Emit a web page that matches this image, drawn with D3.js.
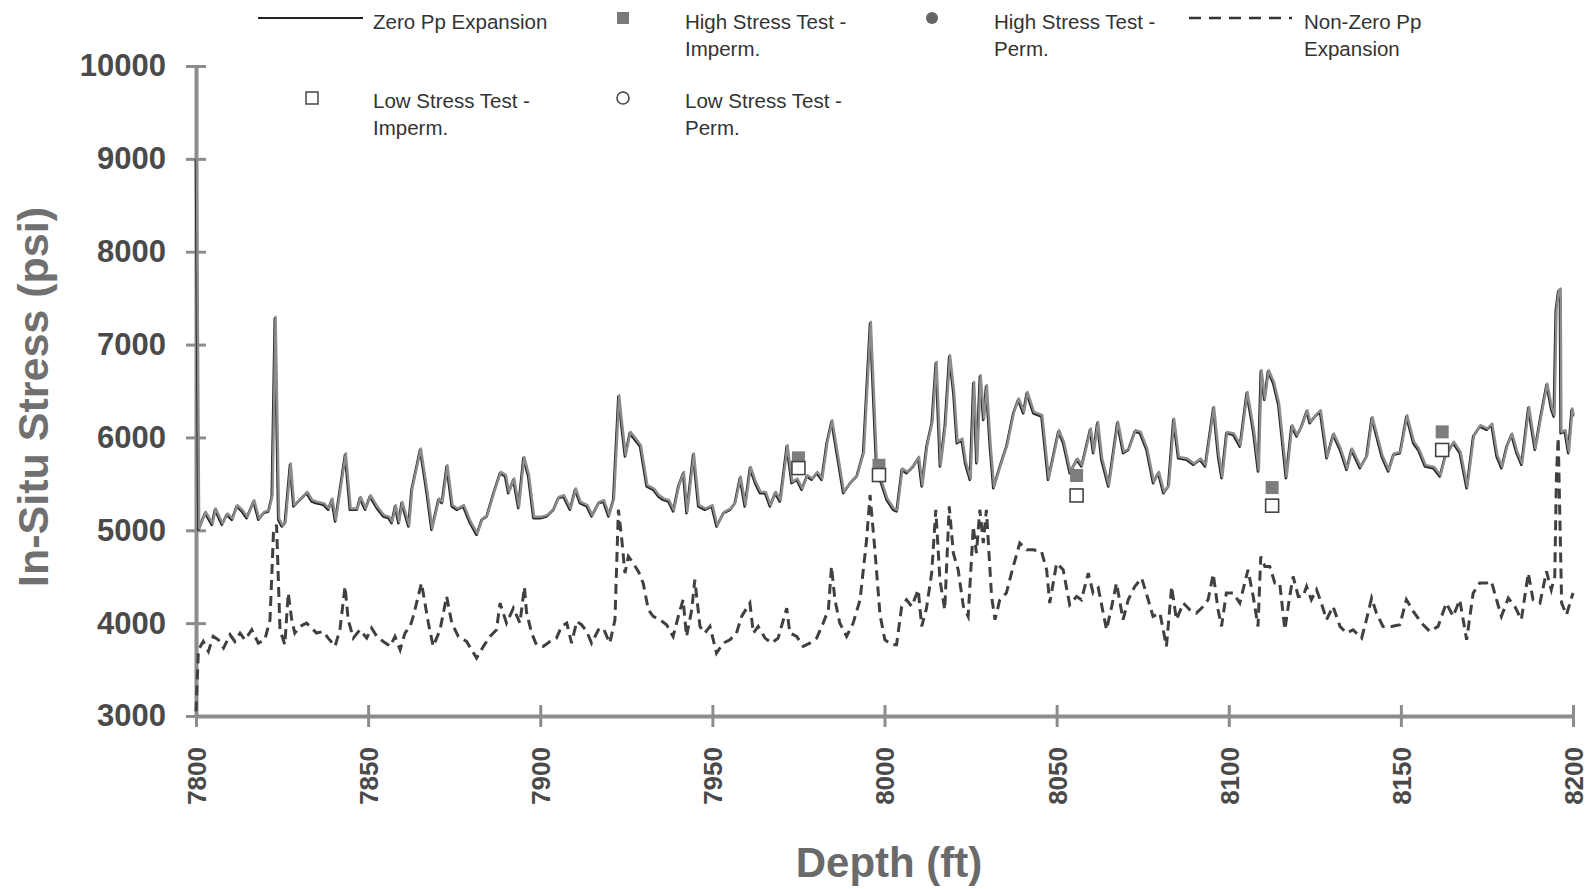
<!DOCTYPE html>
<html>
<head>
<meta charset="utf-8">
<script src="https://cdn.jsdelivr.net/npm/d3@7"></script>
<style>
  body { margin: 0; background: #fff; }
  svg { display: block; font-family: Arial, "Liberation Sans", sans-serif; }
</style>
</head>
<body>
<div id="chart"></div>
<script>
// depth (ft), stress (psi)
const zeroPp = [
  [7800, 9000], [7800.7, 5005], [7802.6, 5185], [7804.6, 5059], [7805.5, 5221], [7807.5, 5059], [7808.9, 5167], [7810.4, 5113],
  [7811.8, 5257], [7813.3, 5203], [7814.7, 5131], [7816.7, 5310], [7818.1, 5113], [7819.6, 5185], [7821.0, 5203], [7822.0, 5364],
  [7822.9, 7284], [7823.9, 5113], [7824.9, 5041], [7825.8, 5077], [7827.3, 5705], [7828.3, 5257], [7832.1, 5400], [7833.6, 5310],
  [7835.0, 5292], [7837.0, 5275], [7838.4, 5221], [7839.4, 5328], [7840.4, 5095], [7843.3, 5813], [7844.7, 5221], [7846.7, 5221],
  [7847.6, 5346], [7849.1, 5221], [7850.5, 5364], [7852.5, 5239], [7854.4, 5149], [7855.9, 5131], [7856.8, 5077], [7857.8, 5257],
  [7858.8, 5077], [7859.7, 5292], [7861.7, 5041], [7862.6, 5436], [7865.1, 5866], [7867.0, 5400], [7868.4, 5005], [7870.4, 5328],
  [7871.4, 5292], [7872.8, 5687], [7874.3, 5257], [7875.7, 5221], [7877.6, 5257], [7879.6, 5077], [7881.5, 4952], [7883.0, 5113],
  [7884.4, 5149], [7886.4, 5400], [7888.3, 5615], [7889.8, 5580], [7890.7, 5400], [7892.2, 5544], [7893.6, 5239], [7895.1, 5777],
  [7896.5, 5580], [7898.0, 5131], [7899.9, 5131], [7901.8, 5149], [7903.8, 5221], [7905.2, 5346], [7906.7, 5364], [7908.6, 5221],
  [7910.1, 5436], [7911.5, 5292], [7913.5, 5257], [7914.9, 5149], [7916.9, 5292], [7918.3, 5310], [7919.8, 5149], [7921.2, 5328],
  [7922.7, 6441], [7923.6, 6118], [7924.6, 5795], [7926.0, 6046], [7927.5, 5974], [7929.0, 5902], [7930.9, 5472], [7932.8, 5436],
  [7934.3, 5364], [7935.7, 5328], [7937.2, 5310], [7938.6, 5203], [7940.1, 5472], [7941.5, 5615], [7942.5, 5185], [7944.4, 5813],
  [7945.9, 5257], [7947.8, 5221], [7949.8, 5257], [7951.2, 5041], [7953.2, 5185], [7955.1, 5221], [7956.5, 5292], [7958.0, 5562],
  [7959.4, 5257], [7960.9, 5669], [7962.4, 5508], [7963.8, 5400], [7965.3, 5400], [7966.7, 5257], [7968.2, 5400], [7969.6, 5310],
  [7971.6, 5902], [7973.0, 5508], [7974.5, 5544], [7975.9, 5436], [7977.4, 5580], [7978.8, 5544], [7980.3, 5615], [7981.7, 5544],
  [7983.2, 5938], [7984.6, 6171], [7986.1, 5831], [7988.0, 5400], [7990.0, 5508], [7991.9, 5580], [7993.8, 5831], [7995.8, 7230],
  [7997.7, 5580], [7998.7, 5544], [8000.6, 5328], [8002.5, 5221], [8003.5, 5203], [8005.0, 5651], [8006.4, 5615], [8008.3, 5687],
  [8009.8, 5777], [8010.8, 5472], [8012.2, 5902], [8013.7, 6154], [8014.9, 6799], [8016.1, 5687], [8017.5, 6118], [8018.8, 6871],
  [8020.0, 6476], [8021.0, 5938], [8022.4, 5974], [8023.4, 5723], [8024.8, 5544], [8025.8, 6584], [8026.7, 5723], [8027.7, 6656],
  [8028.7, 6189], [8029.5, 6548], [8030.6, 5902], [8031.6, 5454], [8033.5, 5687], [8035.4, 5902], [8037.4, 6261], [8038.8, 6405],
  [8040.3, 6261], [8041.3, 6476], [8043.2, 6261], [8045.6, 6225], [8047.5, 5544], [8050.5, 6064], [8051.9, 5938], [8053.8, 5615],
  [8055.8, 5759], [8057.2, 5687], [8059.7, 6082], [8060.6, 5831], [8061.8, 6154], [8063.0, 5759], [8065.0, 5472], [8067.6, 6154],
  [8069.3, 5831], [8070.8, 5866], [8072.7, 6064], [8074.2, 6046], [8076.1, 5866], [8078.0, 5508], [8079.5, 5615], [8081.0, 5400],
  [8082.4, 5472], [8083.9, 6189], [8085.3, 5777], [8087.7, 5759], [8089.7, 5705], [8091.6, 5759], [8093.1, 5687], [8095.5, 6315],
  [8096.9, 5795], [8097.9, 5562], [8099.3, 6045], [8101.3, 6028], [8103.2, 5902], [8105.2, 6477], [8107.1, 6064], [8108.5, 5633],
  [8109.3, 6710], [8110.3, 6405], [8111.4, 6710], [8112.9, 6584], [8114.4, 6351], [8116.6, 5562], [8118.2, 6118], [8119.7, 6010],
  [8121.1, 6118], [8122.6, 6279], [8123.5, 6154], [8125.0, 6225], [8126.5, 6279], [8128.4, 5777], [8130.3, 6028], [8132.3, 5866],
  [8134.2, 5651], [8135.6, 5866], [8138.1, 5669], [8140.0, 5795], [8141.5, 6207], [8142.9, 6010], [8144.4, 5795], [8146.3, 5633],
  [8147.8, 5813], [8149.7, 5831], [8151.6, 6225], [8153.6, 5938], [8155.0, 5866], [8157.0, 5687], [8159.4, 5669], [8161.3, 5579],
  [8162.8, 5795], [8165.2, 5938], [8167.1, 5831], [8169.1, 5454], [8171.0, 6010], [8172.9, 6118], [8174.9, 6082], [8176.3, 6136],
  [8177.8, 5795], [8179.2, 5669], [8180.7, 5902], [8182.1, 6028], [8183.6, 5831], [8185.0, 5705], [8187.0, 6315], [8188.9, 5866],
  [8190.4, 6190], [8192.3, 6566], [8193.7, 6297], [8194.4, 6225], [8195.0, 7374], [8195.7, 7571], [8196.2, 7589], [8196.4, 6046],
  [8197.6, 6064], [8198.6, 5831], [8199.6, 6297], [8200, 6225]
];

const nonZeroPp = [
  [7800, 3050], [7800.7, 3713], [7802.1, 3803], [7803.6, 3696], [7805.0, 3857], [7806.5, 3821], [7808.0, 3732], [7809.9, 3875],
  [7811.3, 3803], [7812.8, 3893], [7814.2, 3821], [7816.2, 3929], [7818.1, 3785], [7820.0, 3821], [7821.5, 4037], [7822.5, 4969],
  [7823.4, 5059], [7824.4, 3929], [7825.8, 3768], [7826.8, 4324], [7827.8, 4037], [7828.7, 3893], [7830.2, 3965], [7832.1, 4001],
  [7833.6, 3947], [7835.0, 3893], [7837.0, 3911], [7838.4, 3839], [7840.4, 3750], [7841.8, 3929], [7843.3, 4395], [7844.2, 4037],
  [7845.7, 3839], [7847.6, 3929], [7849.6, 3839], [7851.0, 3947], [7852.5, 3857], [7854.4, 3803], [7856.4, 3750], [7857.8, 3857],
  [7859.3, 3713], [7860.7, 3893], [7862.2, 3965], [7863.1, 4073], [7865.5, 4431], [7867.5, 4001], [7868.9, 3750], [7870.9, 3929],
  [7872.8, 4288], [7874.3, 4001], [7876.2, 3857], [7878.6, 3803], [7881.5, 3624], [7883.5, 3750], [7885.4, 3857], [7887.3, 3929],
  [7888.3, 4216], [7890.2, 4001], [7892.2, 4162], [7894.1, 4000], [7895.4, 4390], [7896.0, 4120], [7897.5, 3893], [7898.9, 3768],
  [7900.9, 3750], [7902.8, 3803], [7904.7, 3839], [7906.2, 3965], [7907.7, 4001], [7909.1, 3785], [7910.6, 4019], [7912.0, 3983],
  [7913.5, 3911], [7914.9, 3785], [7916.9, 3929], [7918.3, 3947], [7920.2, 3785], [7921.7, 4037], [7922.7, 5221], [7923.6, 4934],
  [7924.6, 4539], [7925.6, 4718], [7927.0, 4646], [7928.5, 4557], [7929.9, 4431], [7931.4, 4144], [7932.8, 4073], [7934.8, 4037],
  [7936.7, 3983], [7938.6, 3857], [7940.1, 4073], [7941.5, 4252], [7942.5, 3857], [7944.0, 4144], [7944.9, 4467], [7946.4, 3965],
  [7947.8, 3893], [7949.3, 3965], [7951.2, 3678], [7953.2, 3785], [7955.1, 3821], [7957.0, 3893], [7958.5, 4073], [7960.9, 4216],
  [7961.9, 3893], [7963.3, 3965], [7965.3, 3839], [7967.2, 3785], [7969.1, 3839], [7971.6, 4162], [7972.5, 3893], [7974.5, 3857],
  [7976.4, 3750], [7978.3, 3785], [7980.3, 3839], [7982.2, 4001], [7983.7, 4144], [7984.6, 4611], [7985.6, 4252], [7987.0, 4001],
  [7989.0, 3857], [7990.9, 4001], [7992.9, 4252], [7994.8, 4898], [7995.8, 5380], [7997.2, 4790], [7998.7, 4090], [8000.1, 3821],
  [8002.0, 3768], [8003.5, 3768], [8005.0, 4180], [8006.4, 4252], [8007.9, 4180], [8009.8, 4360], [8010.8, 3965], [8012.2, 4162],
  [8013.7, 4539], [8014.9, 5221], [8016.1, 4467], [8017.5, 4144], [8018.8, 5257], [8020.0, 4754], [8021.4, 4575], [8022.9, 4180],
  [8024.3, 4073], [8025.8, 5041], [8026.7, 4754], [8027.7, 5221], [8028.7, 4862], [8029.6, 5221], [8031.1, 4288], [8032.1, 4037],
  [8033.5, 4252], [8035.4, 4324], [8037.4, 4611], [8039.3, 4862], [8041.3, 4790], [8043.2, 4790], [8045.6, 4772], [8047.1, 4575],
  [8048.0, 4216], [8050.0, 4646], [8051.9, 4575], [8053.8, 4198], [8055.8, 4288], [8057.2, 4252], [8059.2, 4539], [8060.6, 4324],
  [8062.1, 4378], [8064.5, 3929], [8066.0, 4180], [8067.4, 4431], [8069.3, 4037], [8070.8, 4252], [8072.7, 4395], [8074.7, 4485],
  [8076.6, 4252], [8078.0, 4073], [8080.0, 4108], [8081.9, 3750], [8083.4, 4395], [8084.8, 4037], [8086.8, 4216], [8088.7, 4144],
  [8090.6, 4108], [8092.6, 4180], [8094.0, 4252], [8095.5, 4530], [8096.9, 4144], [8097.9, 3965], [8099.3, 4324], [8101.3, 4324],
  [8103.2, 4216], [8105.6, 4575], [8107.1, 4288], [8108.5, 3965], [8109.3, 4718], [8110.5, 4611], [8111.9, 4611], [8113.4, 4431],
  [8114.8, 4431], [8116.3, 3929], [8117.7, 4288], [8118.7, 4503], [8120.2, 4288], [8121.6, 4288], [8122.6, 4395], [8124.0, 4252],
  [8125.5, 4360], [8126.9, 4216], [8128.4, 4037], [8130.3, 4180], [8132.3, 3965], [8134.2, 3893], [8136.1, 3929], [8138.6, 3839],
  [8140.0, 4037], [8141.5, 4270], [8142.9, 4108], [8144.8, 3965], [8147.3, 3965], [8149.7, 3983], [8151.6, 4252], [8153.6, 4126],
  [8156.0, 4001], [8158.4, 3911], [8160.8, 3965], [8163.2, 4216], [8165.2, 4073], [8167.1, 4252], [8169.1, 3821], [8171.0, 4324],
  [8172.9, 4431], [8174.9, 4431], [8176.3, 4449], [8177.8, 4252], [8179.2, 4073], [8181.2, 4270], [8183.1, 4180], [8185.0, 4037],
  [8187.0, 4539], [8188.4, 4252], [8190.4, 4216], [8192.3, 4557], [8193.7, 4360], [8194.7, 4503], [8195.2, 5600], [8195.7, 6000],
  [8196.7, 4216], [8198.1, 4090], [8200, 4324]
];

// stress test points
const highStressImperm = [[7975, 5780], [7998.4, 5700], [8055.8, 5590], [8112.6, 5460], [8162, 6060]];
const lowStressImperm  = [[7975, 5670], [7998.4, 5595], [8055.8, 5375], [8112.6, 5265], [8162, 5865]];

const xTicks = [7800, 7850, 7900, 7950, 8000, 8050, 8100, 8150, 8200];
const yTicks = [3000, 4000, 5000, 6000, 7000, 8000, 9000, 10000];

const legendRow1 = [
  { label: ["Zero Pp Expansion"], kind: "solid" },
  { label: ["High Stress Test -", "Imperm."], kind: "fsquare" },
  { label: ["High Stress Test -", "Perm."], kind: "fcircle" },
  { label: ["Non-Zero Pp", "Expansion"], kind: "dashed" }
];
const legendRow2 = [
  { label: ["Low Stress Test -", "Imperm."], kind: "osquare" },
  { label: ["Low Stress Test -", "Perm."], kind: "ocircle" }
];

const width = 1589, height = 889;
const svg = d3.select("#chart").append("svg")
  .attr("width", width)
  .attr("height", height);

const x = d3.scaleLinear().domain([7800, 8200]).range([196, 1573]);
const y = d3.scaleLinear().domain([3000, 10000]).range([716, 66]);

const axisColor = "#8c8c8c";
const tickText = "#4a4a4a";

// y axis
const yAxis = svg.append("g")
  .attr("transform", `translate(${x(7800)},0)`)
  .call(d3.axisLeft(y).tickValues(yTicks).tickSize(0).tickPadding(30).tickFormat(d3.format("d")));
yAxis.select(".domain").attr("stroke", axisColor).attr("stroke-width", 4);
yAxis.selectAll(".tick text")
  .attr("fill", tickText).attr("font-size", 31).attr("font-weight", "bold")
  .attr("font-family", "Arial, 'Liberation Sans', sans-serif");
yAxis.selectAll(".tick").append("line")
  .attr("x1", -10).attr("x2", 10)
  .attr("stroke", axisColor).attr("stroke-width", 3);

// x axis
const xAxis = svg.append("g")
  .attr("transform", `translate(0,${y(3000)})`)
  .call(d3.axisBottom(x).tickValues(xTicks).tickSize(0).tickFormat(d3.format("d")));
xAxis.select(".domain").attr("stroke", axisColor).attr("stroke-width", 4);
xAxis.selectAll(".tick").append("line")
  .attr("y1", -11).attr("y2", 11)
  .attr("stroke", axisColor).attr("stroke-width", 3);
xAxis.selectAll(".tick text")
  .attr("fill", tickText).attr("font-size", 26).attr("font-weight", "bold")
  .attr("font-family", "Arial, 'Liberation Sans', sans-serif")
  .attr("text-anchor", "end")
  .attr("dy", "0.36em")
  .attr("y", 0)
  .attr("transform", "translate(0,31) rotate(-90)");

// data lines (drawn over the axes, as in the original)
const line = d3.line().x(d => x(d[0])).y(d => y(d[1]));

svg.append("path").datum(nonZeroPp)
  .attr("fill", "none").attr("stroke", "#404040")
  .attr("stroke-width", 3).attr("stroke-dasharray", "10,6")
  .attr("d", line);

// two nearly coincident traces: dark one underneath, grey one on top
svg.append("path").datum(zeroPp)
  .attr("fill", "none").attr("stroke", "#262626")
  .attr("stroke-width", 2.6).attr("stroke-linejoin", "round")
  .attr("d", line);
svg.append("path").datum(zeroPp)
  .attr("fill", "none").attr("stroke", "#8c8c8c")
  .attr("stroke-width", 2.4).attr("stroke-linejoin", "round")
  .attr("transform", "translate(0.8,-1.3)")
  .attr("d", line);

// axis titles
svg.append("text")
  .attr("transform", `translate(48,${(y(3000) + y(10000)) / 2 + 6}) rotate(-90)`)
  .attr("text-anchor", "middle")
  .attr("font-size", 43).attr("font-weight", "bold").attr("fill", "#707070")
  .text("In-Situ Stress (psi)");

svg.append("text")
  .attr("x", 889).attr("y", 877)
  .attr("text-anchor", "middle")
  .attr("font-size", 42).attr("font-weight", "bold").attr("fill", "#6a6a6a")
  .text("Depth (ft)");

// test markers
const sq = 13;
svg.selectAll(".hs").data(highStressImperm).join("rect")
  .attr("x", d => x(d[0]) - sq / 2).attr("y", d => y(d[1]) - sq / 2)
  .attr("width", sq).attr("height", sq)
  .attr("fill", "#7d7d7d");
svg.selectAll(".ls").data(lowStressImperm).join("rect")
  .attr("x", d => x(d[0]) - sq / 2).attr("y", d => y(d[1]) - sq / 2)
  .attr("width", sq).attr("height", sq)
  .attr("fill", "#fff").attr("stroke", "#444").attr("stroke-width", 1.6);

// legend
const colX = [258, 600, 908, 1189];
const textX = [373, 685, 994, 1304];

function drawSymbol(g, kind, cx, cy) {
  if (kind === "solid") {
    g.append("line").attr("x1", cx).attr("x2", cx + 105).attr("y1", cy).attr("y2", cy)
      .attr("stroke", "#222").attr("stroke-width", 2);
  } else if (kind === "dashed") {
    g.append("line").attr("x1", cx).attr("x2", cx + 103).attr("y1", cy).attr("y2", cy)
      .attr("stroke", "#333").attr("stroke-width", 2.4).attr("stroke-dasharray", "12,8");
  } else if (kind === "fsquare") {
    g.append("rect").attr("x", cx + 17).attr("y", cy - 6).attr("width", 12).attr("height", 12).attr("fill", "#7a7a7a");
  } else if (kind === "osquare") {
    g.append("rect").attr("x", cx + 48).attr("y", cy - 6).attr("width", 12).attr("height", 12)
      .attr("fill", "#fff").attr("stroke", "#444").attr("stroke-width", 1.5);
  } else if (kind === "fcircle") {
    g.append("circle").attr("cx", cx + 24).attr("cy", cy).attr("r", 6).attr("fill", "#666");
  } else if (kind === "ocircle") {
    g.append("circle").attr("cx", cx + 23).attr("cy", cy).attr("r", 6)
      .attr("fill", "#fff").attr("stroke", "#444").attr("stroke-width", 1.5);
  }
}

const legend = svg.append("g").attr("font-size", 20.5).attr("fill", "#333");
legendRow1.forEach((item, i) => {
  drawSymbol(legend, item.kind, colX[i], 18);
  item.label.forEach((t, j) => {
    legend.append("text").attr("x", textX[i]).attr("y", 29 + j * 27).text(t);
  });
});
legendRow2.forEach((item, i) => {
  drawSymbol(legend, item.kind, colX[i], 98);
  item.label.forEach((t, j) => {
    legend.append("text").attr("x", textX[i]).attr("y", 108 + j * 27).text(t);
  });
});
</script>
</body>
</html>
